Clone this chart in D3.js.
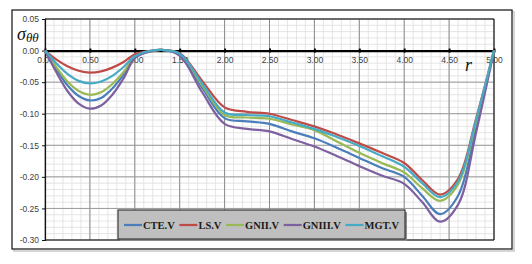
<!DOCTYPE html>
<html>
<head>
<meta charset="utf-8">
<script src="https://cdn.jsdelivr.net/npm/d3@7"></script>
<style>
  html, body { margin: 0; padding: 0; background: #fff; }
  svg { display: block; }
</style>
</head>
<body>
<div class="graph-container"></div>
<script>
// DATA
const rValues = [0, 0.125, 0.25, 0.375, 0.5, 0.625, 0.75, 0.875, 1.0, 1.15, 1.3, 1.5, 1.75, 2.0, 2.25, 2.5, 2.75, 3.0, 3.25, 3.5, 3.75, 4.0, 4.2, 4.4, 4.6, 4.8, 5.0];
const seriesNames = ["CTE.V", "LS.V", "GNII.V", "GNIII.V", "MGT.V"];
const cteV   = [0, -0.029, -0.055, -0.072, -0.079, -0.075, -0.060, -0.038, -0.011, -0.002, 0.001, -0.007, -0.059, -0.107, -0.112, -0.116, -0.128, -0.139, -0.154, -0.170, -0.186, -0.200, -0.230, -0.259, -0.230, -0.122, 0];
const lsV    = [0, -0.014, -0.025, -0.032, -0.035, -0.033, -0.027, -0.018, -0.006, -0.001, 0.001, -0.004, -0.048, -0.090, -0.097, -0.100, -0.110, -0.120, -0.133, -0.147, -0.162, -0.178, -0.205, -0.228, -0.203, -0.108, 0];
const gniiV  = [0, -0.026, -0.049, -0.064, -0.070, -0.066, -0.053, -0.034, -0.010, -0.002, 0.001, -0.006, -0.055, -0.102, -0.106, -0.108, -0.117, -0.126, -0.144, -0.162, -0.178, -0.193, -0.218, -0.238, -0.212, -0.113, 0];
const gniiiV = [0, -0.034, -0.064, -0.084, -0.092, -0.087, -0.070, -0.044, -0.012, -0.002, 0.001, -0.008, -0.066, -0.116, -0.124, -0.128, -0.140, -0.152, -0.167, -0.183, -0.198, -0.211, -0.240, -0.271, -0.244, -0.130, 0];
const mgtV   = [0, -0.020, -0.037, -0.048, -0.052, -0.049, -0.040, -0.026, -0.009, -0.001, 0.001, -0.005, -0.052, -0.098, -0.102, -0.104, -0.114, -0.124, -0.137, -0.151, -0.167, -0.184, -0.210, -0.232, -0.207, -0.110, 0];
const seriesValues = [cteV, lsV, gniiV, gniiiV, mgtV];
const xTicks = [0, 0.5, 1, 1.5, 2, 2.5, 3, 3.5, 4, 4.5, 5];
const yTicks = [0.05, 0, -0.05, -0.1, -0.15, -0.2, -0.25, -0.3];

// GRAPH CONSTANTS
const w = 532;
const h = 264;
const plotLeft = 45;
const plotRight = 494;
const plotTop = 19;
const plotBottom = 240;
const colors = ["#4a7ebb", "#be4b48", "#98b954", "#7d60a0", "#46aac5"];

// SCALES
const xScale = d3.scaleLinear().domain([0, 5]).range([plotLeft, plotRight]);
const yScale = d3.scaleLinear().domain([-0.3, 0.05]).range([plotBottom, plotTop]);

const svg = d3.select('div.graph-container')
    .append('svg')
    .attr('width', w)
    .attr('height', h);

// CHART FRAME (with shadow)
svg.append('rect')
    .attr('x', 14).attr('y', 12)
    .attr('width', 500).attr('height', 239)
    .attr('fill', 'none')
    .attr('stroke', '#c8c8c8')
    .attr('stroke-width', 1.5);
svg.append('rect')
    .attr('x', 12).attr('y', 10)
    .attr('width', 500).attr('height', 239)
    .attr('fill', '#fff')
    .attr('stroke', '#222')
    .attr('stroke-width', 1.3);

// GRID
const grid = svg.append('g');
grid.selectAll('line.minor-x')
    .data(d3.range(0, 51).map(i => i / 10))
    .enter()
    .append('line')
    .attr('x1', d => xScale(d)).attr('x2', d => xScale(d))
    .attr('y1', plotTop).attr('y2', plotBottom)
    .attr('stroke', '#dedede')
    .attr('stroke-width', 0.8);
grid.selectAll('line.minor-y')
    .data(d3.range(-30, 6).map(i => i / 100))
    .enter()
    .append('line')
    .attr('x1', plotLeft).attr('x2', plotRight)
    .attr('y1', d => yScale(d)).attr('y2', d => yScale(d))
    .attr('stroke', '#dedede')
    .attr('stroke-width', 0.8);
grid.selectAll('line.major-x')
    .data(xTicks)
    .enter()
    .append('line')
    .attr('x1', d => xScale(d)).attr('x2', d => xScale(d))
    .attr('y1', plotTop).attr('y2', plotBottom)
    .attr('stroke', '#8a8a8a')
    .attr('stroke-width', 1);
grid.selectAll('line.major-y')
    .data(yTicks)
    .enter()
    .append('line')
    .attr('x1', plotLeft).attr('x2', plotRight)
    .attr('y1', d => yScale(d)).attr('y2', d => yScale(d))
    .attr('stroke', '#9a9a9a')
    .attr('stroke-width', 1);

// PLOT BORDER (top, right, bottom)
svg.append('path')
    .attr('d', `M${plotLeft},${plotTop}H${plotRight}V${plotBottom}H${plotLeft}`)
    .attr('fill', 'none')
    .attr('stroke', '#111')
    .attr('stroke-width', 1);

// AXES
const fmt = v => v.toFixed(2);
const yAxis = d3.axisLeft(yScale)
    .tickValues(yTicks)
    .tickSize(3)
    .tickPadding(3)
    .tickFormat(fmt);
const xAxis = d3.axisBottom(xScale)
    .tickValues(xTicks)
    .tickSize(0)
    .tickPadding(6)
    .tickFormat(fmt);

const gy = svg.append('g')
    .attr('transform', `translate(${plotLeft}, 0)`)
    .call(yAxis);
gy.select('.domain').attr('stroke', '#111').attr('stroke-width', 1.2);
gy.selectAll('.tick line').attr('stroke', '#111');
gy.selectAll('text')
    .attr('font-family', 'Liberation Sans, Arial, sans-serif')
    .attr('font-size', 8.5)
    .attr('fill', '#404040');

const gx = svg.append('g')
    .attr('transform', `translate(0, ${yScale(0)})`)
    .call(xAxis);
gx.select('.domain').attr('stroke', '#000').attr('stroke-width', 2.2);
gx.selectAll('.tick')
    .append('line')
    .attr('y1', -2).attr('y2', 2)
    .attr('stroke', '#000')
    .attr('stroke-width', 2);
gx.selectAll('text')
    .attr('font-family', 'Liberation Sans, Arial, sans-serif')
    .attr('font-size', 8.5)
    .attr('fill', '#404040');

// LINES
const line = d3.line()
    .x((d, i) => xScale(rValues[i]))
    .y(d => yScale(d))
    .curve(d3.curveCatmullRom.alpha(0.5));

svg.append('g')
    .selectAll('path')
    .data(seriesValues)
    .enter()
    .append('path')
    .attr('d', line)
    .attr('fill', 'none')
    .attr('stroke', (d, i) => colors[i])
    .attr('stroke-width', 2.2)
    .attr('stroke-linejoin', 'round');

// AXIS TITLES
const yTitle = svg.append('text')
    .attr('x', 17)
    .attr('y', 40)
    .attr('font-family', 'Liberation Serif, DejaVu Serif, serif')
    .attr('font-style', 'italic')
    .attr('font-size', 18)
    .attr('fill', '#111');
yTitle.append('tspan').text('σ');
yTitle.append('tspan')
    .attr('font-size', 13)
    .attr('dy', 2)
    .text('θθ');

svg.append('text')
    .attr('x', 465)
    .attr('y', 71)
    .attr('font-family', 'Liberation Serif, DejaVu Serif, serif')
    .attr('font-style', 'italic')
    .attr('font-size', 18)
    .attr('fill', '#111')
    .text('r');

// LEGEND
const legendBox = { x: 118, y: 210, w: 287, h: 29 };
const legend = svg.append('g');
legend.append('rect')
    .attr('x', legendBox.x + 2).attr('y', legendBox.y + 2)
    .attr('width', legendBox.w).attr('height', legendBox.h)
    .attr('fill', '#8c8c8c');
legend.append('rect')
    .attr('x', legendBox.x).attr('y', legendBox.y)
    .attr('width', legendBox.w).attr('height', legendBox.h)
    .attr('fill', '#bfbfbf')
    .attr('stroke', '#3a3a3a')
    .attr('stroke-width', 1.2);

const legendY = legendBox.y + 15;
const items = seriesNames.map((name, i) => {
    const g = legend.append('g');
    g.append('line')
        .attr('x1', 0).attr('x2', 18)
        .attr('y1', legendY).attr('y2', legendY)
        .attr('stroke', colors[i])
        .attr('stroke-width', 2.2);
    const t = g.append('text')
        .attr('x', 19)
        .attr('y', legendY + 4)
        .attr('font-family', 'Liberation Serif, DejaVu Serif, serif')
        .attr('font-weight', 'bold')
        .attr('font-size', 10.5)
        .attr('fill', '#1a1a1a')
        .text(name);
    return { g, width: 19 + t.node().getComputedTextLength() };
});
// spread entries evenly across the box
const pad = 6;
const totalW = d3.sum(items, d => d.width);
const gap = (legendBox.w - 2 * pad - totalW) / (items.length - 1);
let lx = legendBox.x + pad;
items.forEach(d => {
    d.g.attr('transform', `translate(${lx}, 0)`);
    lx += d.width + gap;
});
</script>
</body>
</html>
